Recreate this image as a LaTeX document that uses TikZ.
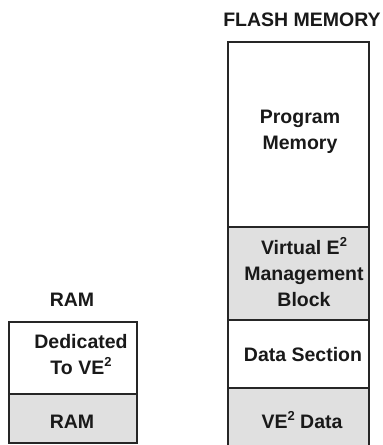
\documentclass[tikz,border=0pt]{standalone}
\usepackage{fontspec}
\setmainfont{Liberation Sans}
\newcommand{\sqd}{\raisebox{0.42em}{\fontsize{13}{13}\selectfont 2}}
\begin{document}
\begin{tikzpicture}[x=1pt,y=-1pt,
  cell/.style={draw=black!85,line width=1.3pt},
  shaded/.style={cell,fill=black!12},
  lbl/.style={font=\bfseries\fontsize{19.5}{26}\selectfont,align=center,inner sep=0pt,text=black!90}]
\useasboundingbox (0,0) rectangle (383,445);
% RAM column
\draw[cell] (9,322) rectangle (137,394);
\draw[shaded] (9,394) rectangle (137,443);
% Flash column
\draw[cell] (228,42) rectangle (369,227);
\draw[shaded] (228,227) rectangle (369,320);
\draw[cell] (228,320) rectangle (369,388);
\draw[shaded] (228,388) rectangle (369,450);
% labels
\node[lbl] (ramtitle) at (72,300) {RAM};
\node[lbl] (flashtitle) at (302,20) {FLASH MEMORY};
\node[lbl] (ded) at (81,355) {Dedicated\\To VE\sqd};
\node[lbl] (ram) at (72,422) {RAM};
\node[lbl] (prog) at (300,132) {Program\\Memory};
\node[lbl] (virt) at (304,272) {Virtual E\sqd\\Management\\Block};
\node[lbl] (data) at (303,355) {Data Section};
\node[lbl] (ve2) at (302,420) {VE\sqd{} Data};
\end{tikzpicture}
\end{document}
